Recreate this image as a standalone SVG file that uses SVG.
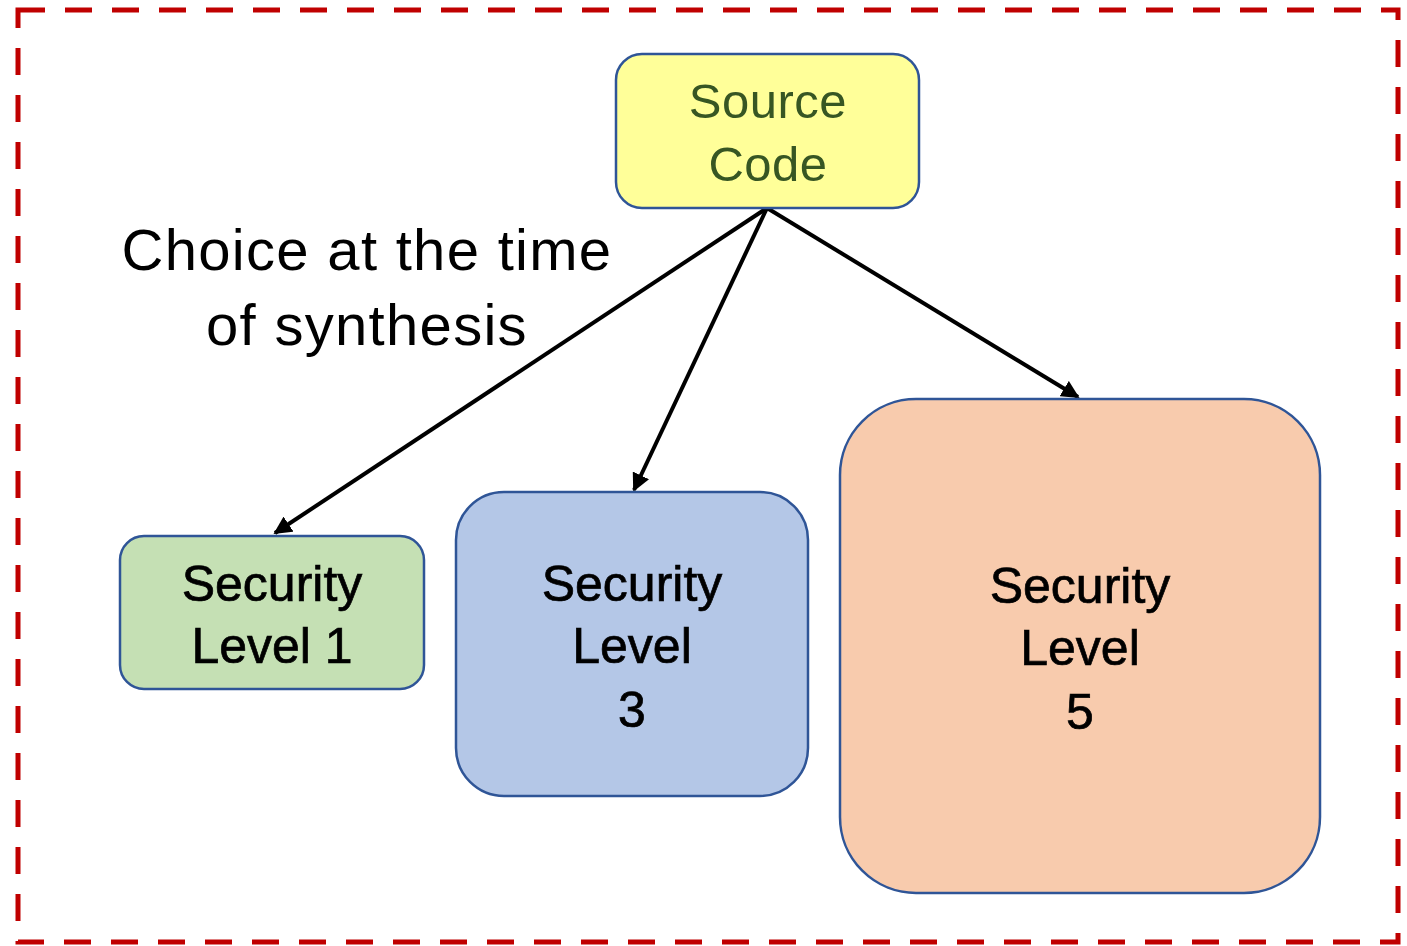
<svg xmlns="http://www.w3.org/2000/svg" width="1407" height="946" viewBox="0 0 1407 946">
<defs>
<style>
.box{stroke:#2F5597;stroke-width:2.5}
.lbl{font-family:"Liberation Sans",Arial,sans-serif;font-size:50px;text-anchor:middle;fill:#000;font-weight:500;stroke:#000;stroke-width:0.7}
.src{font-family:"Liberation Sans",Arial,sans-serif;font-size:49px;text-anchor:middle;fill:#375623;letter-spacing:0.5px}
.note{font-family:"Liberation Sans",Arial,sans-serif;font-size:58px;text-anchor:middle;fill:#000;letter-spacing:1.3px}
.edge{stroke:#000;stroke-width:4;fill:none;marker-end:url(#ah)}
</style>
<marker id="ah" viewBox="0 0 10 10" refX="9" refY="5" markerWidth="4.5" markerHeight="4.5" orient="auto" markerUnits="strokeWidth">
<path d="M0,0 L10,5 L0,10 z" fill="#000"/>
</marker>
</defs>
<rect width="1407" height="946" fill="#fff"/>
<rect id="frame" x="18" y="10" width="1380" height="932" fill="none" stroke="#C00000" stroke-width="5" stroke-dasharray="27 20"/>
<g id="connectors">
<line class="edge" x1="767" y1="208" x2="275" y2="533"/>
<line class="edge" x1="767" y1="208" x2="634" y2="490"/>
<line class="edge" x1="767" y1="208" x2="1078" y2="397"/>
</g>
<g id="source">
<rect class="box" x="616" y="54" width="303" height="154" rx="26" fill="#FFFF99"/>
<text class="src" x="768" y="118">Source</text>
<text class="src" x="768" y="181">Code</text>
</g>
<g id="note">
<text class="note" x="367" y="270">Choice at the time</text>
<text class="note" x="367" y="345">of synthesis</text>
</g>
<g id="sl1">
<rect class="box" x="120" y="536" width="304" height="153" rx="24" fill="#C5E0B4"/>
<text class="lbl" x="272" y="601">Security</text>
<text class="lbl" x="272" y="663">Level 1</text>
</g>
<g id="sl3">
<rect class="box" x="456" y="492" width="352" height="304" rx="48" fill="#B4C7E7"/>
<text class="lbl" x="632" y="601">Security</text>
<text class="lbl" x="632" y="663">Level</text>
<text class="lbl" x="632" y="727">3</text>
</g>
<g id="sl5">
<rect class="box" x="840" y="399" width="480" height="494" rx="76" fill="#F8CBAD"/>
<text class="lbl" x="1080" y="603">Security</text>
<text class="lbl" x="1080" y="665">Level</text>
<text class="lbl" x="1080" y="729">5</text>
</g>
</svg>
